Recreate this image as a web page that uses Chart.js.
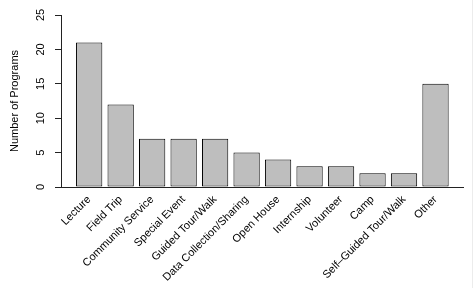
<!DOCTYPE html>
<html>
<head>
<meta charset="utf-8">
<script src="https://cdn.jsdelivr.net/npm/chart.js@4"></script>
<style>
  html, body { margin: 0; padding: 0; background: #fff; }
  #wrap { width: 474px; height: 288px; position: relative; }
  #edge { position: absolute; left: 472px; top: 0; width: 1px; height: 288px; background: #ececec; }
</style>
</head>
<body>
<div id="wrap"><canvas id="barChart"></canvas><div id="edge"></div></div>
<script>
const categories = [
  "Lecture", "Field Trip", "Community Service", "Special Event",
  "Guided Tour/Walk", "Data Collection/Sharing", "Open House",
  "Internship", "Volunteer", "Camp", "Self\u2013Guided Tour/Walk", "Other"
];
const programCounts = [21, 12, 7, 7, 7, 5, 4, 3, 3, 2, 2, 15];
const yTicks = [0, 5, 10, 15, 20, 25];

const FONT = { family: "'Liberation Sans', Arial, Helvetica, sans-serif", size: 11 };

Chart.defaults.font = FONT;
Chart.defaults.color = "#000";

// R-style y tick labels, turned 90 degrees (Chart.js won't rotate vertical axis labels)
const rotatedYLabels = {
  id: "rotatedYLabels",
  afterDraw(chart) {
    const y = chart.scales.y;
    const c = chart.ctx;
    c.save();
    c.font = `${FONT.size}px ${FONT.family}`;
    c.fillStyle = "#000";
    c.textAlign = "center";
    c.textBaseline = "middle";
    yTicks.forEach((v) => {
      c.save();
      c.translate(y.right - 20, y.getPixelForValue(v));
      c.rotate(-Math.PI / 2);
      c.fillText(String(v), 0, 0);
      c.restore();
    });
    c.restore();
  },
};

const ctx = document.getElementById("barChart").getContext("2d");
new Chart(ctx, {
  type: "bar",
  data: {
    datasets: [
      {
        data: programCounts.map((v, i) => ({ x: i, y: v })),
        backgroundColor: "#bebebe",
        borderColor: "#000",
        borderWidth: 1,
        borderSkipped: false,
        barPercentage: 0.835,
        categoryPercentage: 1,
      },
    ],
  },
  options: {
    responsive: true,
    maintainAspectRatio: false,
    animation: false,
    layout: { padding: { top: 15, right: 11, left: 0, bottom: 0 } },
    plugins: {
      legend: { display: false },
      tooltip: { enabled: false },
    },
    scales: {
      x: {
        type: "linear",
        offset: false,
        min: -0.895,
        max: 11.873,
        grid: { display: false, drawTicks: false, offset: false },
        border: { display: true, color: "#222", width: 1 },
        afterBuildTicks: (axis) => {
          axis.ticks = categories.map((c, i) => ({ value: i }));
        },
        afterFit: (axis) => {
          axis.height = 101;
        },
        ticks: {
          autoSkip: false,
          minRotation: 45,
          maxRotation: 45,
          padding: 6,
          callback: (v) => categories[v],
        },
      },
      y: {
        min: 0,
        max: 25,
        afterBuildTicks: (axis) => {
          axis.ticks = yTicks.map((v) => ({ value: v }));
        },
        afterFit: (axis) => {
          axis.width = 61;
        },
        grid: {
          display: true,
          drawOnChartArea: false,
          drawTicks: true,
          tickLength: 6,
          color: "#222",
        },
        border: { display: true, color: "#222", width: 1 },
        ticks: {
          display: false,
        },
        title: {
          display: true,
          text: "Number of Programs",
          padding: { top: 8, bottom: 0 },
        },
      },
    },
  },
  plugins: [rotatedYLabels],
});
</script>
</body>
</html>
